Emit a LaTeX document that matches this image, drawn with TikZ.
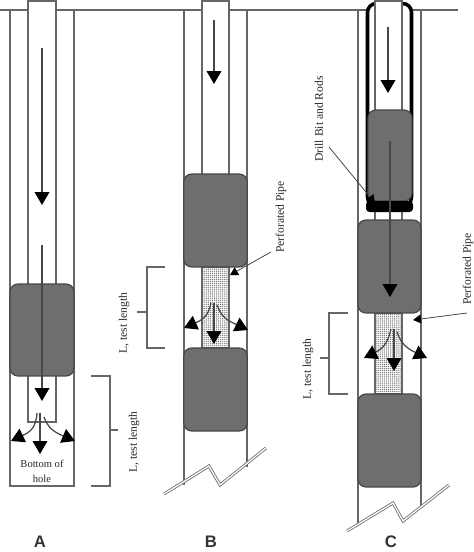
\documentclass[tikz,border=0pt]{standalone}
\usepackage{fontspec}
\setmainfont{Liberation Serif}
\setsansfont{Liberation Sans}
\usetikzlibrary{arrows.meta,patterns}
\pgfdeclarepatternformonly{perfdots}{\pgfqpoint{-.4pt}{-.4pt}}{\pgfqpoint{.4pt}{.4pt}}{\pgfqpoint{1.1pt}{1.1pt}}{\pgfpathcircle{\pgfqpoint{0pt}{0pt}}{.36pt}\pgfusepath{fill}}
\begin{document}
\begin{tikzpicture}
[x=.02cm,y=-.02cm,line width=.7pt,
wall/.style={draw=black!60},
pipe/.style={draw=black!60,fill=white},
pipetop/.style={draw=black!60,line width=1.5pt},
packer/.style={draw=black!72,fill=black!57,rounded corners=4.5pt,inner sep=0,outer sep=0},
perf/.style={draw=black!60,pattern=perfdots,pattern color=black!58},
flow/.style={draw=black!72,-{Triangle[length=7.4pt,width=8.4pt,color=black]}},
leader/.style={draw=black!72,line width=.45pt,-{Triangle[length=4.5pt,width=5pt,color=black]}},
brace/.style={draw=black!60},
ground/.style={draw=black!55,double=white,double distance=.7pt,line width=.5pt},
note/.style={font=\fontsize{6.6}{8}\selectfont,text=black!85,inner sep=0},
tag/.style={font=\sffamily\bfseries\fontsize{9.5}{11}\selectfont,text=black!80,inner sep=0}]
\useasboundingbox (0,0) rectangle (474,552);
\draw[wall] (0,10) to (458,10);
\draw[wall] (10,10) to (10,486) to (74,486) to (74,10);
\draw[wall] (184,10) to (184,485);
\draw[wall] (247,10) to (247,467);
\draw[wall] (358,10) to (358,523);
\draw[wall] (421,10) to (421,508);
\draw[pipe] (28,422) to (28,1) to (56,1) to (56,422) to cycle;
\draw[pipetop] (28,1) to (56,1);
\draw[pipe] (202,174) to (202,1) to (229,1) to (229,174);
\draw[pipetop] (202,1) to (229,1);
\draw[perf] (202,267) rectangle (229,348);
\draw[line width=2pt,rounded corners=5pt,fill=white] (367.5,206) rectangle (411.5,3.5);
\draw[pipe] (375,220) to (375,1) to (402,1) to (402,220);
\draw[pipetop] (375,1) to (402,1);
\draw[perf] (375,313) rectangle (402,394);
\node[packer,minimum width=1.28cm,minimum height=1.84cm] (packA) at (42,330) {};
\node[packer,minimum width=1.27cm,minimum height=1.86cm] (packB1) at (215.5,220.5) {};
\node[packer,minimum width=1.27cm,minimum height=1.66cm] (packB2) at (215.5,389.5) {};
\node[packer,minimum width=.88cm,minimum height=1.82cm] (packC1) at (390,201) [anchor=south] {};
\fill[black,rounded corners=2pt] (366,201) rectangle (413,212);
\node[packer,minimum width=1.26cm,minimum height=1.86cm] (packC2) at (389.5,266.5) {};
\node[packer,minimum width=1.26cm,minimum height=1.86cm] (packC3) at (389.5,440.5) {};
\coordinate (a1) at (42,48); \coordinate (a2) at (42,205);
\coordinate (a3) at (42,245); \coordinate (a4) at (42,401);
\coordinate (a5) at (40,413); \coordinate (a6) at (40,454);
\coordinate (a7) at (37,413); \coordinate (a8) at (11,441);
\coordinate (a9) at (44,417); \coordinate (a10) at (75,441);
\draw[flow] (a1) to (a2);
\draw[flow] (a3) to (a4);
\draw[flow] (a5) to (a6);
\draw[flow] (a7) .. controls (36,428) and (30,432) .. (a8);
\draw[flow] (a9) .. controls (48,428) and (54,432) .. (a10);
\coordinate (b1) at (214,20); \coordinate (b2) at (214,84);
\coordinate (b3) at (214,303); \coordinate (b4) at (214,344);
\coordinate (b5) at (211,303); \coordinate (b6) at (184,328);
\coordinate (b7) at (217,305); \coordinate (b8) at (248,330);
\draw[flow] (b1) to (b2);
\draw[flow] (b3) to (b4);
\draw[flow] (b5) .. controls (208,316) and (204,319) .. (b6);
\draw[flow] (b7) .. controls (222,318) and (227,320) .. (b8);
\coordinate (c1) at (388,27); \coordinate (c2) at (388,93);
\coordinate (c3) at (390,141); \coordinate (c4) at (390,297);
\coordinate (c5) at (394,329); \coordinate (c6) at (394,371);
\coordinate (c7) at (391,329); \coordinate (c8) at (364,358);
\coordinate (c9) at (397,332); \coordinate (c10) at (427,358);
\draw[flow] (c1) to (c2);
\draw[flow] (c3) to (c4);
\draw[flow] (c5) to (c6);
\draw[flow] (c7) .. controls (388,342) and (384,348) .. (c8);
\draw[flow] (c9) .. controls (401,344) and (408,349) .. (c10);
\draw[brace] (91,376) to (110,376) to (110,486) to (91,486);
\draw[brace] (110,430) to (118,430);
\draw[brace] (165,267) to (147,267) to (147,348) to (165,348);
\draw[brace] (147,312) to (137,312);
\draw[brace] (348,313) to (329,313) to (329,394) to (348,394);
\draw[brace] (329,358) to (320,358);
\node[note,rotate=90] (lenA) at (134,442) {L, test length};
\node[note,rotate=90] (lenB) at (124,323) {L, test length};
\node[note,rotate=90] (lenC) at (308,369) {L, test length};
\node[note,font=\fontsize{6}{8}\selectfont] (botA) at (42,464) {Bottom of};
\node[note,font=\fontsize{6}{8}\selectfont] (holeA) at (42,479) {hole};
\node[note,rotate=90] (perfB) at (281,217) {Perforated Pipe};
\node[note,rotate=90] (perfC) at (468,269) {Perforated Pipe};
\node[note,rotate=90] (drillC) at (319,119) {Drill Bit and Rods};
\coordinate (d1) at (271,252); \coordinate (d2) at (230,275);
\coordinate (d3) at (467,313); \coordinate (d4) at (413,320);
\coordinate (d5) at (329,147); \coordinate (d6) at (375,203);
\draw[leader] (d1) to (d2);
\draw[leader] (d3) to (d4);
\draw[leader] (d5) to (d6);
\draw[ground] (164,494) to (209,466) to (220,485) to (266,448);
\draw[ground] (347,531) to (393,503) to (403,521) to (449,485);
\node[tag] (A) at (40,542) {A};
\node[tag] (B) at (211,542) {B};
\node[tag] (C) at (391,542) {C};
\end{tikzpicture}
\end{document}
